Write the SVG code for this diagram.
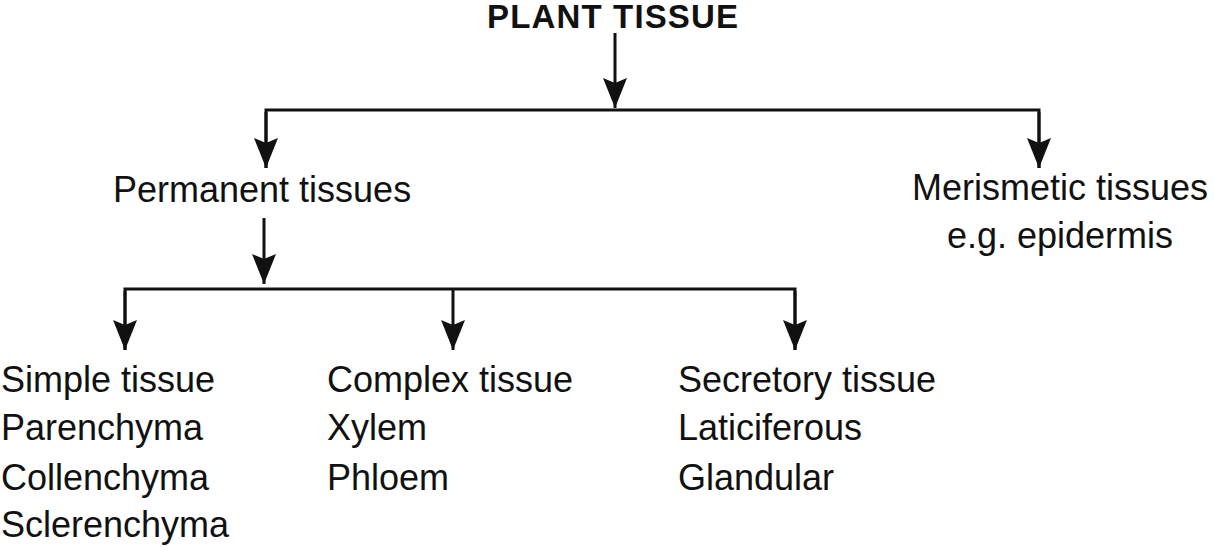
<svg xmlns="http://www.w3.org/2000/svg" width="1214" height="550" viewBox="0 0 1214 550">
<style>
.t{font-family:"Liberation Sans",Arial,sans-serif;font-size:36px;fill:#111}
.b{font-family:"Liberation Sans",Arial,sans-serif;font-size:33px;font-weight:bold;fill:#111}
.c{fill:none;stroke:#111;stroke-width:3}
</style>
<defs>
<marker id="ah" viewBox="0 0 30 24" markerWidth="30" markerHeight="24" refX="30" refY="12" orient="auto" markerUnits="userSpaceOnUse">
<path d="M0,0 L30,12 L0,24 L5,12 z" fill="#111"/>
</marker>
</defs>
<rect width="1214" height="550" fill="#fff"/>
<g id="connectors">
<path class="c" d="M615,33 V108" marker-end="url(#ah)"/>
<path class="c" d="M266,168 V110 H1039 V168"/>
<path class="c" d="M266,112 V168" marker-end="url(#ah)"/>
<path class="c" d="M1039,112 V168" marker-end="url(#ah)"/>
<path class="c" d="M264,218 V284" marker-end="url(#ah)"/>
<path class="c" d="M125,350 V289 H795 V350"/>
<path class="c" d="M125,291 V350" marker-end="url(#ah)"/>
<path class="c" d="M453,289 V350" marker-end="url(#ah)"/>
<path class="c" d="M795,291 V350" marker-end="url(#ah)"/>
</g>
<g id="plant-tissue"><text class="b" x="487" y="28" textLength="251">PLANT TISSUE</text></g>
<g id="permanent"><text class="t" x="113" y="202">Permanent tissues</text></g>
<g id="merismetic">
<text class="t" x="1060" y="200" text-anchor="middle">Merismetic tissues</text>
<text class="t" x="1060" y="248" text-anchor="middle">e.g. epidermis</text>
</g>
<g id="simple">
<text class="t" x="1" y="392">Simple tissue</text>
<text class="t" x="1" y="440">Parenchyma</text>
<text class="t" x="1" y="490">Collenchyma</text>
<text class="t" x="1" y="537">Sclerenchyma</text>
</g>
<g id="complex">
<text class="t" x="327" y="392">Complex tissue</text>
<text class="t" x="327" y="440">Xylem</text>
<text class="t" x="327" y="490">Phloem</text>
</g>
<g id="secretory">
<text class="t" x="678" y="392">Secretory tissue</text>
<text class="t" x="678" y="440">Laticiferous</text>
<text class="t" x="678" y="490">Glandular</text>
</g>
</svg>
